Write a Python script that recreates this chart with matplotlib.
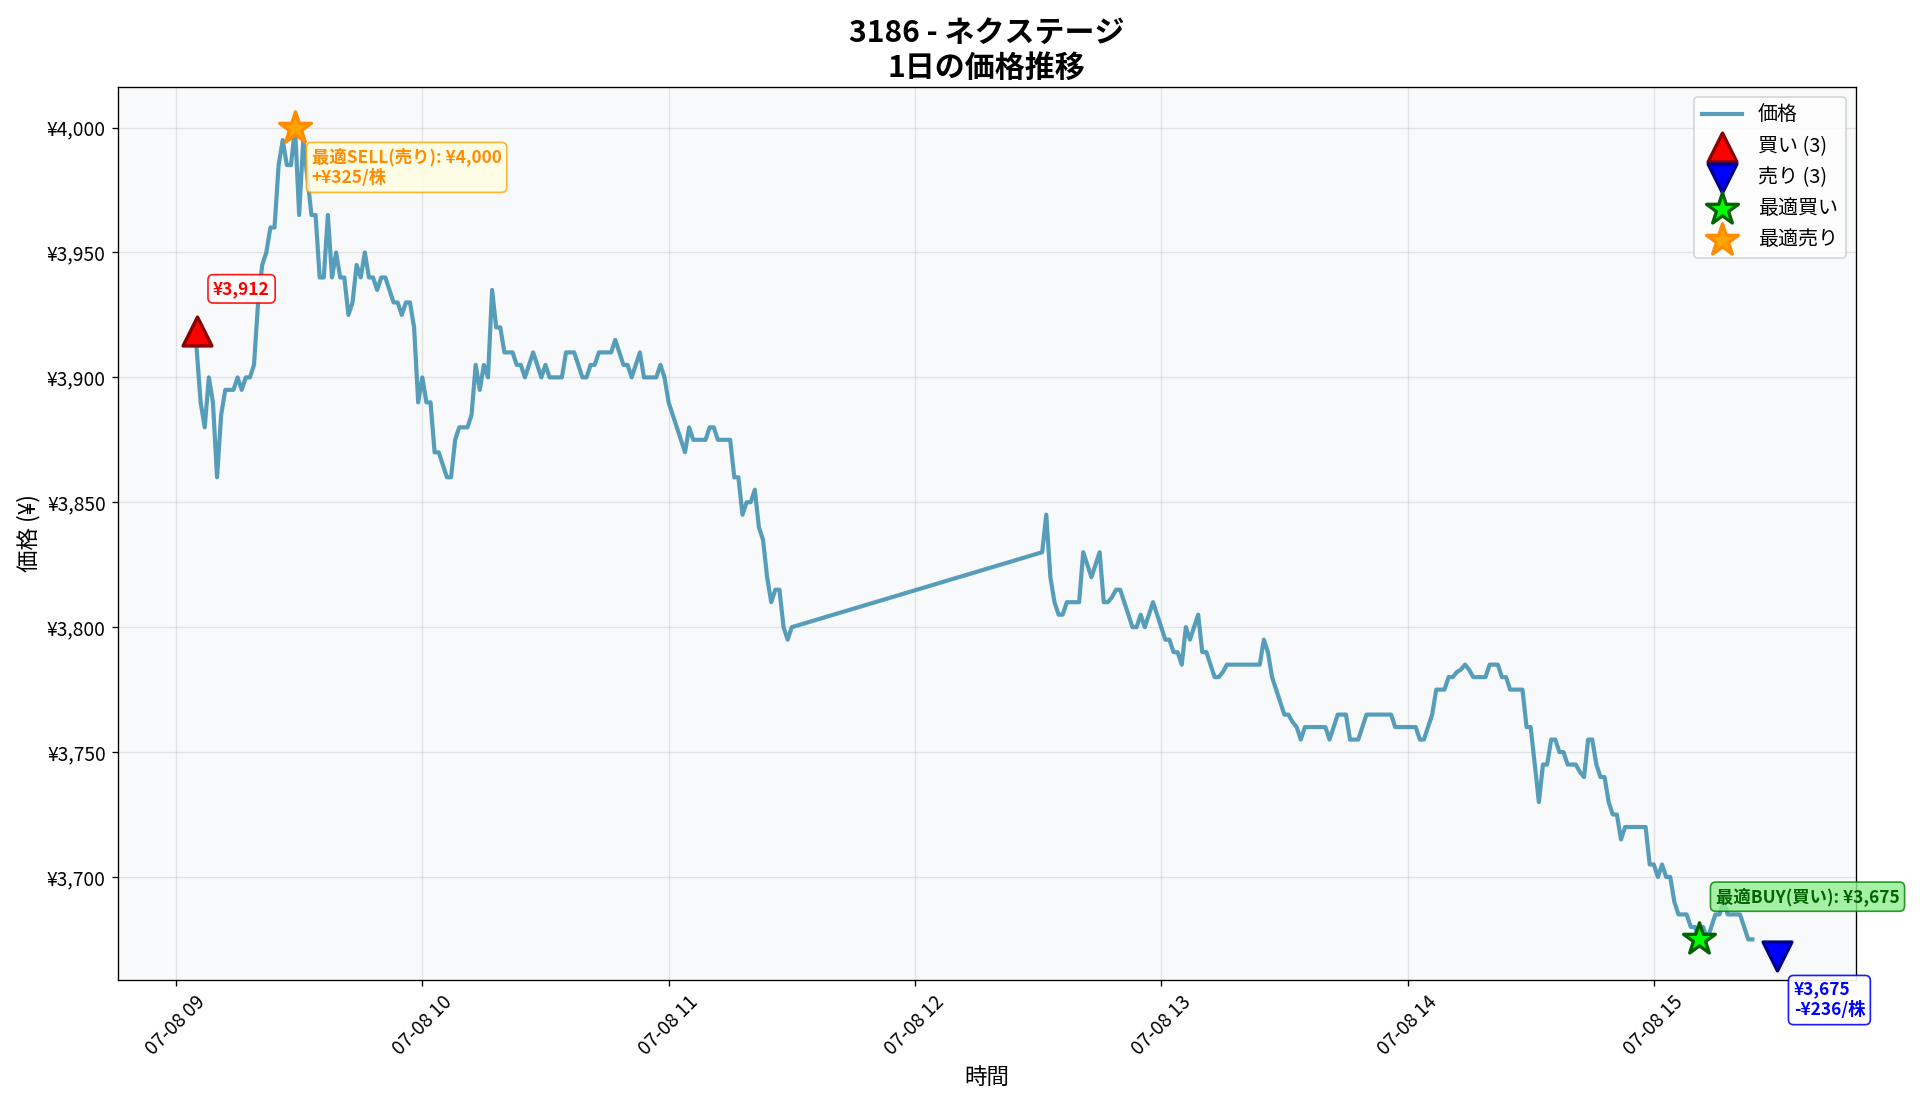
import matplotlib
matplotlib.use("Agg")
import matplotlib.pyplot as plt
import matplotlib.dates as mdates
from matplotlib.ticker import FuncFormatter
import pandas as pd

plt.rcParams['font.family'] = ['Noto Sans CJK JP', 'DejaVu Sans']

# 前場 09:05 - 11:30 (1分足)
morning_start = "2025-07-08 09:05"
morning_prices = [
    3912, 3890, 3880, 3900, 3890, 3860, 3885, 3895, 3895, 3895,   # 09:05-
    3900, 3895, 3900, 3900, 3905, 3930, 3945, 3950, 3960, 3960,   # 09:15-
    3985, 3995, 3985, 3985, 4000, 3965, 3995, 3980, 3965, 3965,   # 09:25-
    3940, 3940, 3965, 3940, 3950, 3940, 3940, 3925, 3930, 3945,   # 09:35-
    3940, 3950, 3940, 3940, 3935, 3940, 3940, 3935, 3930, 3930,   # 09:45-
    3925, 3930, 3930, 3920, 3890, 3900, 3890, 3890, 3870, 3870,   # 09:55-
    3865, 3860, 3860, 3875, 3880, 3880, 3880, 3885, 3905, 3895,   # 10:05-
    3905, 3900, 3935, 3920, 3920, 3910, 3910, 3910, 3905, 3905,   # 10:15-
    3900, 3905, 3910, 3905, 3900, 3905, 3900, 3900, 3900, 3900,   # 10:25-
    3910, 3910, 3910, 3905, 3900, 3900, 3905, 3905, 3910, 3910,   # 10:35-
    3910, 3910, 3915, 3910, 3905, 3905, 3900, 3905, 3910, 3900,   # 10:45-
    3900, 3900, 3900, 3905, 3900, 3890, 3885, 3880, 3875, 3870,   # 10:55-
    3880, 3875, 3875, 3875, 3875, 3880, 3880, 3875, 3875, 3875,   # 11:05-
    3875, 3860, 3860, 3845, 3850, 3850, 3855, 3840, 3835, 3820,   # 11:15-
    3810, 3815, 3815, 3800, 3795, 3800,                           # 11:25-11:30
]

# 後場 12:31 - 15:24
afternoon_start = "2025-07-08 12:31"
afternoon_prices = [
    3830, 3845, 3820, 3810, 3805, 3805, 3810, 3810, 3810, 3810,   # 12:31-
    3830, 3825, 3820, 3825, 3830, 3810, 3810, 3812, 3815, 3815,   # 12:41-
    3810, 3805, 3800, 3800, 3805, 3800, 3805, 3810, 3805, 3800,   # 12:51-
    3795, 3795, 3790, 3790, 3785, 3800, 3795, 3800, 3805, 3790,   # 13:01-
    3790, 3785, 3780, 3780, 3782, 3785, 3785, 3785, 3785, 3785,   # 13:11-
    3785, 3785, 3785, 3785, 3795, 3790, 3780, 3775, 3770, 3765,   # 13:21-
    3765, 3762, 3760, 3755, 3760, 3760, 3760, 3760, 3760, 3760,   # 13:31-
    3755, 3760, 3765, 3765, 3765, 3755, 3755, 3755, 3760, 3765,   # 13:41-
    3765, 3765, 3765, 3765, 3765, 3765, 3760, 3760, 3760, 3760,   # 13:51-
    3760, 3760, 3755, 3755, 3760, 3765, 3775, 3775, 3775, 3780,   # 14:01-
    3780, 3782, 3783, 3785, 3783, 3780, 3780, 3780, 3780, 3785,   # 14:11-
    3785, 3785, 3780, 3780, 3775, 3775, 3775, 3775, 3760, 3760,   # 14:21-
    3745, 3730, 3745, 3745, 3755, 3755, 3750, 3750, 3745, 3745,   # 14:31-
    3745, 3742, 3740, 3755, 3755, 3745, 3740, 3740, 3730, 3725,   # 14:41-
    3725, 3715, 3720, 3720, 3720, 3720, 3720, 3720, 3705, 3705,   # 14:51-
    3700, 3705, 3700, 3700, 3690, 3685, 3685, 3685, 3680, 3680,   # 15:01-
    3675, 3680, 3675, 3680, 3685, 3685, 3690, 3685, 3685, 3685,   # 15:11-
    3685, 3680, 3675, 3675,                                       # 15:21-15:24
]

buy_time, buy_price = "2025-07-08 09:05", 3912
sell_time, sell_price = "2025-07-08 15:30", 3675
sell_pnl = -236
opt_buy_time, opt_buy_price = "2025-07-08 15:11", 3675
opt_sell_time, opt_sell_price = "2025-07-08 09:29", 4000
opt_profit = 325
n_buys, n_sells = 3, 3

times = list(pd.date_range(morning_start, periods=len(morning_prices), freq="min")) + \
        list(pd.date_range(afternoon_start, periods=len(afternoon_prices), freq="min"))
prices = morning_prices + afternoon_prices

fig = plt.figure(figsize=(16, 1106 / 120), dpi=120)
ax = fig.add_axes([117.5 / 1920, 1 - 980 / 1106, (1856 - 117.5) / 1920, (980 - 87) / 1106])
ax.set_facecolor("#f8f9fa")

ax.plot(times, prices, color="#2E86AB", linewidth=2.5, alpha=0.8, label="価格")

pmin, pmax = min(prices), max(prices)
prange = pmax - pmin
off = prange * 0.02

bt, st = pd.Timestamp(buy_time), pd.Timestamp(sell_time)
ax.scatter([bt], [buy_price + off], marker="^", s=300, color="red",
           edgecolor="darkred", linewidth=2, zorder=5, label=f"買い ({n_buys})")
ax.scatter([st], [sell_price - off], marker="v", s=300, color="blue",
           edgecolor="darkblue", linewidth=2, zorder=5, label=f"売り ({n_sells})")

obt, ost = pd.Timestamp(opt_buy_time), pd.Timestamp(opt_sell_time)
ax.scatter([obt], [opt_buy_price], marker="*", s=400, color="lime",
           edgecolor="darkgreen", linewidth=2, zorder=6, label="最適買い")
ax.scatter([ost], [opt_sell_price], marker="*", s=400, color="orange",
           edgecolor="darkorange", linewidth=2, zorder=6, label="最適売り")

ann_fs = 10.4

# 取引ラベル
ax.annotate(f"¥{buy_price:,}", (bt, buy_price + off), xytext=(10, 20),
            textcoords="offset points", fontsize=ann_fs, fontweight="bold", color="red",
            va="bottom", ha="left",
            bbox=dict(boxstyle="round,pad=0.3", facecolor="white", edgecolor="red", alpha=0.9))
ax.annotate(f"¥{sell_price:,}\n-¥{abs(sell_pnl)}/株", (st, sell_price - off), xytext=(10, -15),
            textcoords="offset points", fontsize=ann_fs, fontweight="bold", color="blue",
            va="top", ha="left",
            bbox=dict(boxstyle="round,pad=0.3", facecolor="white", edgecolor="blue", alpha=0.9))

# 最適ポイント
ax.annotate(f"最適BUY(買い): ¥{opt_buy_price:,}", (obt, opt_buy_price), xytext=(10, 20),
            textcoords="offset points", fontsize=ann_fs, fontweight="bold", color="darkgreen",
            va="bottom", ha="left",
            bbox=dict(boxstyle="round,pad=0.3", facecolor="lightgreen", edgecolor="green", alpha=0.8))
ax.annotate(f"最適SELL(売り): ¥{opt_sell_price:,}\n+¥{opt_profit}/株", (ost, opt_sell_price),
            xytext=(10, -12), textcoords="offset points", fontsize=ann_fs, fontweight="bold",
            color="darkorange", va="top", ha="left",
            bbox=dict(boxstyle="round,pad=0.3", facecolor="lightyellow", edgecolor="orange", alpha=0.8))

ax.set_ylim(pmin - prange * 0.05, pmax + prange * 0.05)
ax.yaxis.set_major_formatter(FuncFormatter(lambda y, _: f"¥{y:,.0f}"))
ax.xaxis.set_major_locator(mdates.HourLocator())
ax.xaxis.set_major_formatter(mdates.DateFormatter("%m-%d %H"))
plt.setp(ax.get_xticklabels(), rotation=45)
ax.tick_params(labelsize=11.5)

ax.set_title("3186 - ネクステージ\n1日の価格推移", fontsize=18, fontweight="bold")
ax.set_xlabel("時間", fontsize=13.5)
ax.set_ylabel("価格 (¥)", fontsize=13.5)
ax.grid(True, alpha=0.3)
ax.legend(loc="upper right", fontsize=12)

fig.savefig("out.png", dpi=120)
